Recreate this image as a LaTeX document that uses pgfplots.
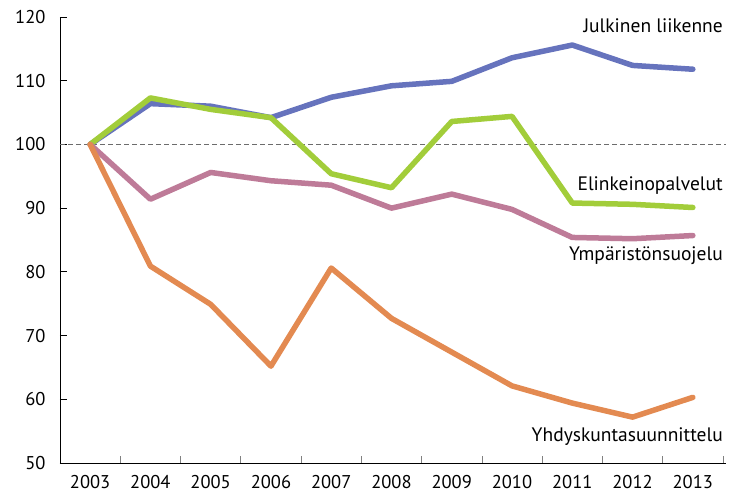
\documentclass[border=0pt]{standalone}
\usepackage{fontspec}
\setmainfont{PT Sans}
\usepackage{pgfplots}
\pgfplotsset{compat=1.18}
\definecolor{cblue}{HTML}{6673BD}
\definecolor{cgreen}{HTML}{A2CD3A}
\definecolor{cpink}{HTML}{BE7B98}
\definecolor{corange}{HTML}{E38A51}
\begin{document}
\begin{tikzpicture}
\begin{axis}[
  name=ax,
  scale only axis,
  width=666pt, height=446pt,
  xmin=2002.5, xmax=2013.55,
  ymin=50, ymax=120,
  axis lines=left,
  axis line style={-, line width=0.9pt},
  xtick={2003,...,2013},
  xticklabels={2003,2004,2005,2006,2007,2008,2009,2010,2011,2012,2013},
  major x tick style={draw=none},
  minor xtick={2002.5,2003.5,...,2013.5},
  minor tick length=7pt,
  minor x tick style={gray, line width=0.8pt},
  ytick={50,60,...,120},
  major tick length=7pt,
  y tick style={black, line width=0.8pt},
  tick align=inside,
  xticklabel style={yshift=-9pt},
  yticklabel style={xshift=-11pt},
  /pgf/number format/assume math mode=true,
  /pgf/number format/1000 sep={},
  tick label style={font=\fontsize{18.5}{22}\selectfont},
  clip=false,
]
\addplot[gray!85!black, dash pattern=on 5pt off 3pt, line width=0.8pt, forget plot] coordinates {(2002.5,100) (2013.55,100)};
\addplot[cblue, line width=5.5pt, line join=round, line cap=round] coordinates {
(2003,100) (2004,106.4) (2005,106.0) (2006,104.2) (2007,107.4) (2008,109.2) (2009,109.9) (2010,113.6) (2011,115.6) (2012,112.4) (2013,111.8)};
\addplot[cgreen, line width=5.5pt, line join=round, line cap=round] coordinates {
(2003,100) (2004,107.3) (2005,105.5) (2006,104.2) (2007,95.4) (2008,93.2) (2009,103.6) (2010,104.4) (2011,90.8) (2012,90.6) (2013,90.1)};
\addplot[cpink, line width=5.5pt, line join=round, line cap=round] coordinates {
(2003,100) (2004,91.4) (2005,95.6) (2006,94.3) (2007,93.6) (2008,90.0) (2009,92.2) (2010,89.8) (2011,85.4) (2012,85.2) (2013,85.7)};
\addplot[corange, line width=5.5pt, line join=round, line cap=round] coordinates {
(2003,100) (2004,80.9) (2005,74.9) (2006,65.2) (2007,80.6) (2008,72.7) (2009,67.4) (2010,62.1) (2011,59.4) (2012,57.2) (2013,60.3)};
\begin{scope}[font=\fontsize{19.5}{23}\selectfont]
\node[anchor=east, inner sep=0pt] at (axis cs:2013.5,118.6) {Julkinen liikenne};
\node[anchor=east, inner sep=0pt] at (axis cs:2013.5,93.6) {Elinkeinopalvelut};
\node[anchor=east, inner sep=0pt] at (axis cs:2013.5,82.6) {Ympäristönsuojelu};
\node[anchor=east, inner sep=0pt] at (axis cs:2013.5,54.1) {Yhdyskuntasuunnittelu};
\end{scope}
\end{axis}
\pgfresetboundingbox
\path ([shift={(-60pt,-36pt)}]ax.south west) rectangle ([shift={(3pt,17pt)}]ax.north east);
\end{tikzpicture}
\end{document}
